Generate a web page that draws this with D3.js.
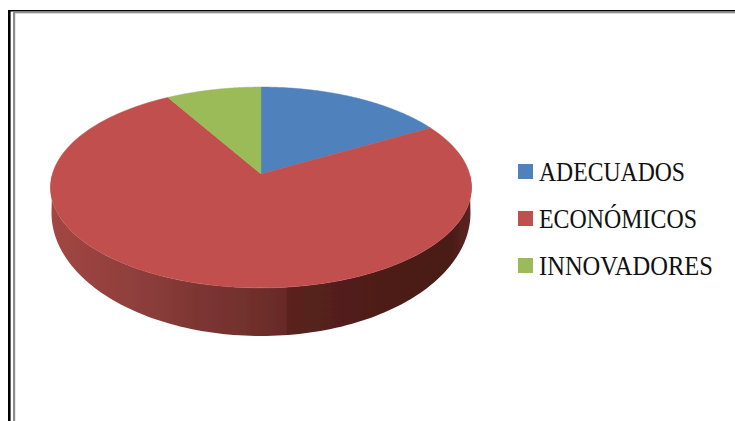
<!DOCTYPE html>
<html><head><meta charset="utf-8">
<script src="https://cdn.jsdelivr.net/npm/d3@7"></script>
<style>html,body{margin:0;padding:0;background:#fff;overflow:hidden}svg{display:block}</style>
</head><body><svg id="c" width="735" height="421"></svg>
<script>
const categories = ["ADECUADOS", "ECONÓMICOS", "INNOVADORES"];
const values = [16.7, 75, 8.3];
const colors = ["#4f81bd", "#c0504d", "#9bbb59"];
const legendWidths = [146, 158, 174];

const svg = d3.select("#c");
const W = 735, H = 421;
const cx = 261, cy = 174, R = 208.6, c = -0.134, a = 75.3;
const lower = {cy: 213, rx: 209.5, ry: 123};

const defs = svg.append("defs");
defs.append("filter").attr("id","soft").append("feGaussianBlur").attr("stdDeviation",0.45);
const g = defs.append("linearGradient").attr("id","wall").attr("gradientUnits","userSpaceOnUse")
  .attr("x1",50).attr("x2",471).attr("y1",0).attr("y2",0);
[[0,"#a34643"],[0.2,"#8f3f3c"],[0.38,"#7a3431"],[0.56,"#682b28"],[0.565,"#5a221e"],[0.8,"#4d1c18"],[0.95,"#4a1b17"],[1,"#5d2522"]]
  .forEach(([o,col])=>g.append("stop").attr("offset",o).attr("stop-color",col));

// Perspective projection of a point on the pie's rim (t in radians, clockwise from top)
function project(t){
  const u = Math.sin(t), v = -Math.cos(t), w = 1 + c*v;
  return [cx + R*u/w, (a*v + cy)/w];
}
const rim = (t0,t1)=>d3.range(0,121).map(i=>project(t0+(t1-t0)*i/120));
const line = d3.line();

// Frame
const frame = [["#000",8,10,2.6,H-10],["#000",8,10,W-8,1.5],["#8c8c8c",13,12,2.2,H-12],["#8c8c8c",13,11.5,W-13,1.8]];
svg.selectAll("rect.frame").data(frame).join("rect").attr("class","frame")
  .attr("fill",d=>d[0]).attr("x",d=>d[1]).attr("y",d=>d[2]).attr("width",d=>d[3]).attr("height",d=>d[4]);

const plot = svg.append("g").attr("filter","url(#soft)");
const arcs = d3.pie().sort(null)(values);

// Side wall: lower half of the rim joined to the far, lower ellipse
const topEdge = rim(Math.PI/2, 3*Math.PI/2);
const lowEdge = d3.range(0,121).map(i=>{
  const t = Math.PI - Math.PI*i/120;
  return [cx + lower.rx*Math.cos(t), lower.cy + lower.ry*Math.sin(t)];
});
plot.append("path").attr("d", line(topEdge.concat(lowEdge))+"Z").attr("fill","url(#wall)");

// Top face
plot.selectAll("path.slice").data(arcs).join("path").attr("class","slice")
  .attr("d", d=>line([[cx,cy]].concat(rim(d.startAngle,d.endAngle)))+"Z")
  .attr("fill",(d,i)=>colors[i]).attr("stroke",(d,i)=>colors[i]).attr("stroke-width",0.5);

// Legend
const ly = d3.scalePoint().domain(categories).range([179,273]);
const leg = svg.selectAll("g.leg").data(categories).join("g").attr("class","leg");
leg.append("rect").attr("x",518).attr("y",d=>ly(d)-15).attr("width",15).attr("height",15)
  .attr("fill",(d,i)=>colors[i]);
leg.append("text").attr("x",539).attr("y",d=>ly(d)+2)
  .attr("font-family","'Liberation Serif',serif").attr("font-size",27).attr("fill","#111")
  .attr("textLength",(d,i)=>legendWidths[i]).attr("lengthAdjust","spacingAndGlyphs").text(d=>d);
</script></body></html>
